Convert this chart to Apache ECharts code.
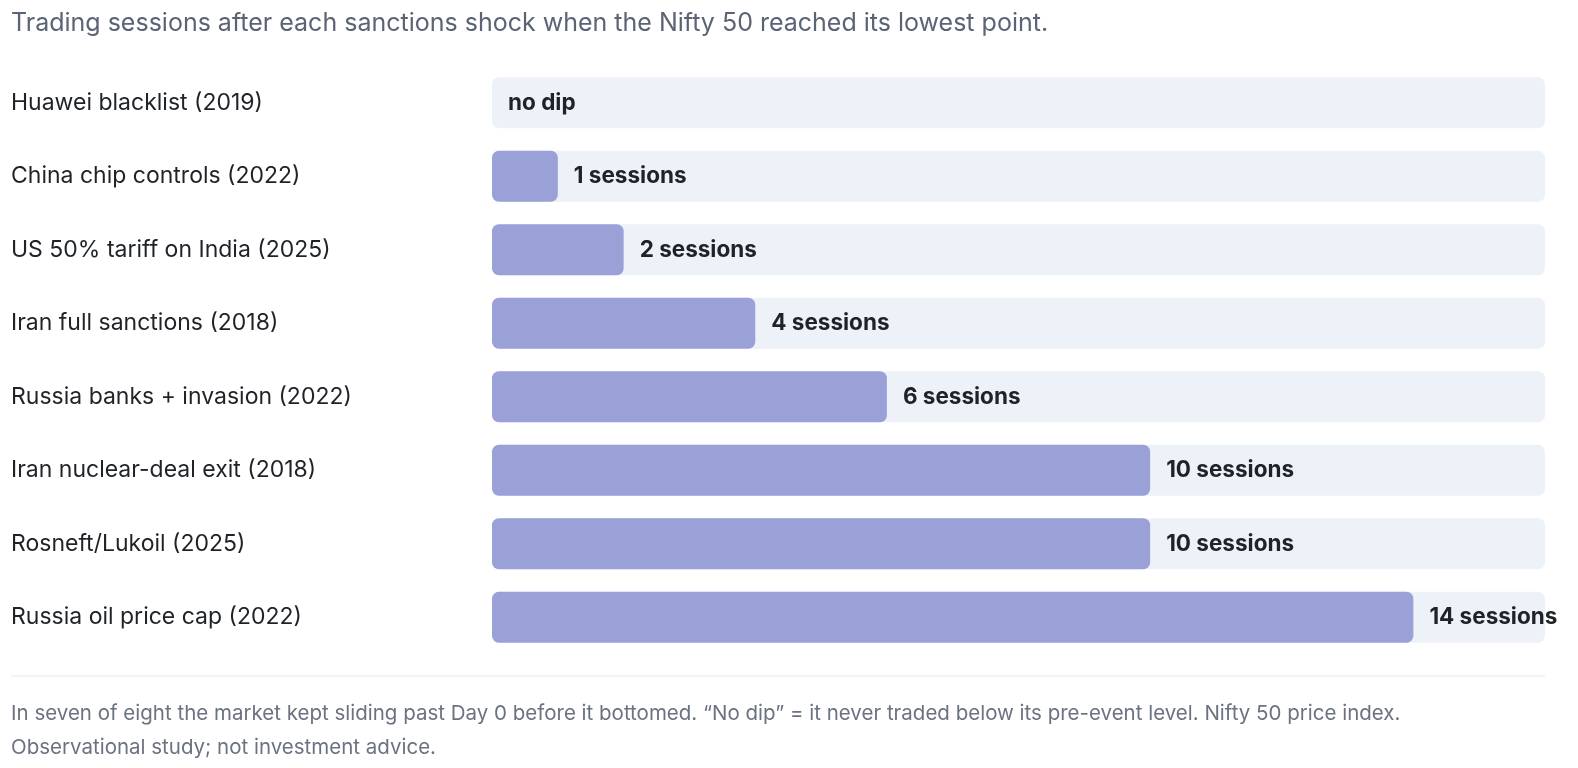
<!DOCTYPE html>
<html>
<head>
<meta charset="utf-8">
<script src="https://cdn.jsdelivr.net/npm/echarts@6/dist/echarts.min.js"></script>
<style>
  html, body { margin: 0; padding: 0; background: #fff; }
  #chart { width: 1578px; height: 768px; }
</style>
</head>
<body>
<div id="chart"></div>
<script>
// 事件名称和触底所需交易日
const events = [
  'Huawei blacklist (2019)',
  'China chip controls (2022)',
  'US 50% tariff on India (2025)',
  'Iran full sanctions (2018)',
  'Russia banks + invasion (2022)',
  'Iran nuclear-deal exit (2018)',
  'Rosneft/Lukoil (2025)',
  'Russia oil price cap (2022)'
];
const sessions = [0, 1, 2, 4, 6, 10, 10, 14];
const axisMax = 16;

const titleText = 'Trading sessions after each sanctions shock when the Nifty 50 reached its lowest point.';
const noteText = 'In seven of eight the market kept sliding past Day 0 before it bottomed. \u201cNo dip\u201d = it never traded below its pre-event level. Nifty 50 price index.\nObservational study; not investment advice.';

const fontFamily = 'Inter, "Noto Sans", sans-serif';

const myChart = echarts.init(document.getElementById('chart'));

const option = {
  animation: false,
  title: {
    text: titleText,
    left: 11,
    top: 11,
    padding: 0,
    textStyle: {
      fontFamily: fontFamily,
      fontSize: 25,
      fontWeight: 'normal',
      color: '#5b6475'
    }
  },
  grid: {
    left: 492,
    right: 33,
    top: 66,
    bottom: 114
  },
  xAxis: {
    type: 'value',
    min: 0,
    max: axisMax,
    show: false
  },
  yAxis: {
    type: 'category',
    data: events,
    inverse: true,
    axisLine: { show: false },
    axisTick: { show: false },
    axisLabel: {
      align: 'left',
      margin: 481,
      fontFamily: fontFamily,
      fontSize: 23,
      color: '#1f2328'
    }
  },
  series: [{
    type: 'bar',
    data: sessions,
    barWidth: 51,
    showBackground: true,
    backgroundStyle: {
      color: '#edf2f9',
      borderRadius: 7
    },
    itemStyle: {
      color: '#99a1d6',
      borderRadius: 7
    },
    label: {
      show: true,
      position: 'right',
      distance: 16,
      fontFamily: fontFamily,
      fontSize: 22.5,
      fontWeight: 'bold',
      color: '#1f2328',
      formatter: (p) => p.value === 0 ? 'no dip' : p.value + ' sessions'
    }
  }],
  graphic: [
    {
      type: 'line',
      shape: { x1: 11, y1: 676, x2: 1545, y2: 676 },
      style: { stroke: '#eef1f5', lineWidth: 1.5 }
    },
    {
      type: 'text',
      left: 11,
      top: 697,
      style: {
        text: noteText,
        fontFamily: fontFamily,
        fontSize: 20.5,
        lineHeight: 34,
        fill: '#6b7280'
      }
    }
  ]
};

myChart.setOption(option);
</script>
</body>
</html>
